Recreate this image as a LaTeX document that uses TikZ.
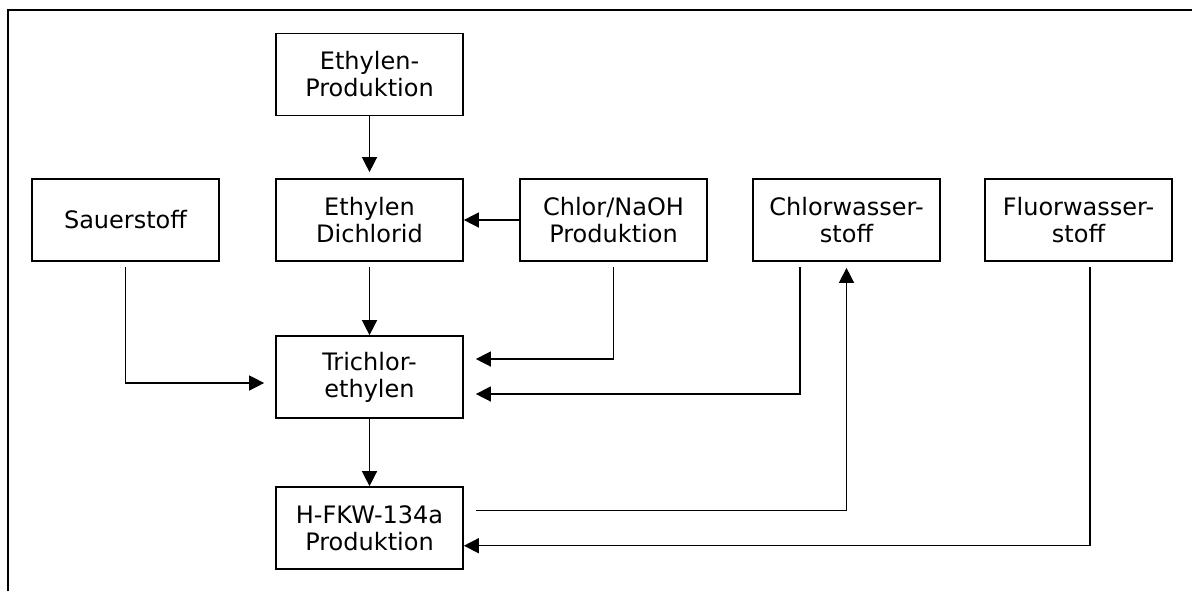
\documentclass[tikz,border=0pt]{standalone}
\usepackage{fontspec}
\setmainfont{DejaVu Sans}
\usetikzlibrary{arrows.meta}
\usetikzlibrary{positioning}

\tikzset{box/.style={draw, line width=0.85pt, minimum width=93.5pt, minimum height=41pt, inner sep=0pt, align=center, font=\fontsize{12}{13.5}\selectfont}}

\begin{document}
\begin{tikzpicture}[>={Triangle[length=7.5pt,width=7.5pt]}, line width=0.7pt, node distance=122pt]
			\useasboundingbox (0,0) rectangle (596pt,-295.5pt);
			\draw[line width=0.9pt] (4pt,-295.5pt) |- (596pt,-5pt);
			
			\node[box] (sauer) at (62.75pt,-110pt) {Sauerstoff};
			\node[box] (dcl) [right of=sauer] {Ethylen\\Dichlorid};
			\node[box] (chlor) [right of=dcl] {Chlor/NaOH\\Produktion};
			\node[box, node distance=116.5pt] (hcl) [right of=chlor] {Chlorwasser-\\stoff};
			\node[box, node distance=116pt] (hf) [right of=hcl] {Fluorwasser-\\stoff};
			
			\node[box, node distance=72.75pt] (eprod) [above of=dcl] {Ethylen-\\Produktion};
			\node[box, node distance=78.5pt] (tce) [below of=dcl] {Trichlor-\\ethylen};
			\node[box, node distance=75.5pt] (hfkw) [below of=tce] {H-FKW-134a\\Produktion};
			
			\draw[->, shorten >=3pt] (eprod) -- (dcl);
			\draw[->] (chlor) -- (dcl);
			\draw[->, shorten <=2.5pt] (dcl) -- (tce);
			\draw[->] (tce) -- (hfkw);
			
			\draw[->, shorten <=2.5pt, shorten >=5.5pt] (sauer.south) |- ([yshift=-3pt]tce.west);
			\draw[->, shorten <=2.5pt, shorten >=6pt] (chlor.south) |- ([yshift=9pt]tce.east);
			\draw[->, shorten <=2.5pt, shorten >=6pt] ([xshift=-23.25pt]hcl.south) |- ([yshift=-8.5pt]tce.east);
			\draw[->, shorten <=6pt, shorten >=3pt] ([yshift=8.65pt]hfkw.east) -| (hcl);
			\draw[->, shorten <=2.5pt] ([xshift=5.75pt]hf.south) |- ([yshift=-8.85pt]hfkw.east);
\end{tikzpicture}
\end{document}
